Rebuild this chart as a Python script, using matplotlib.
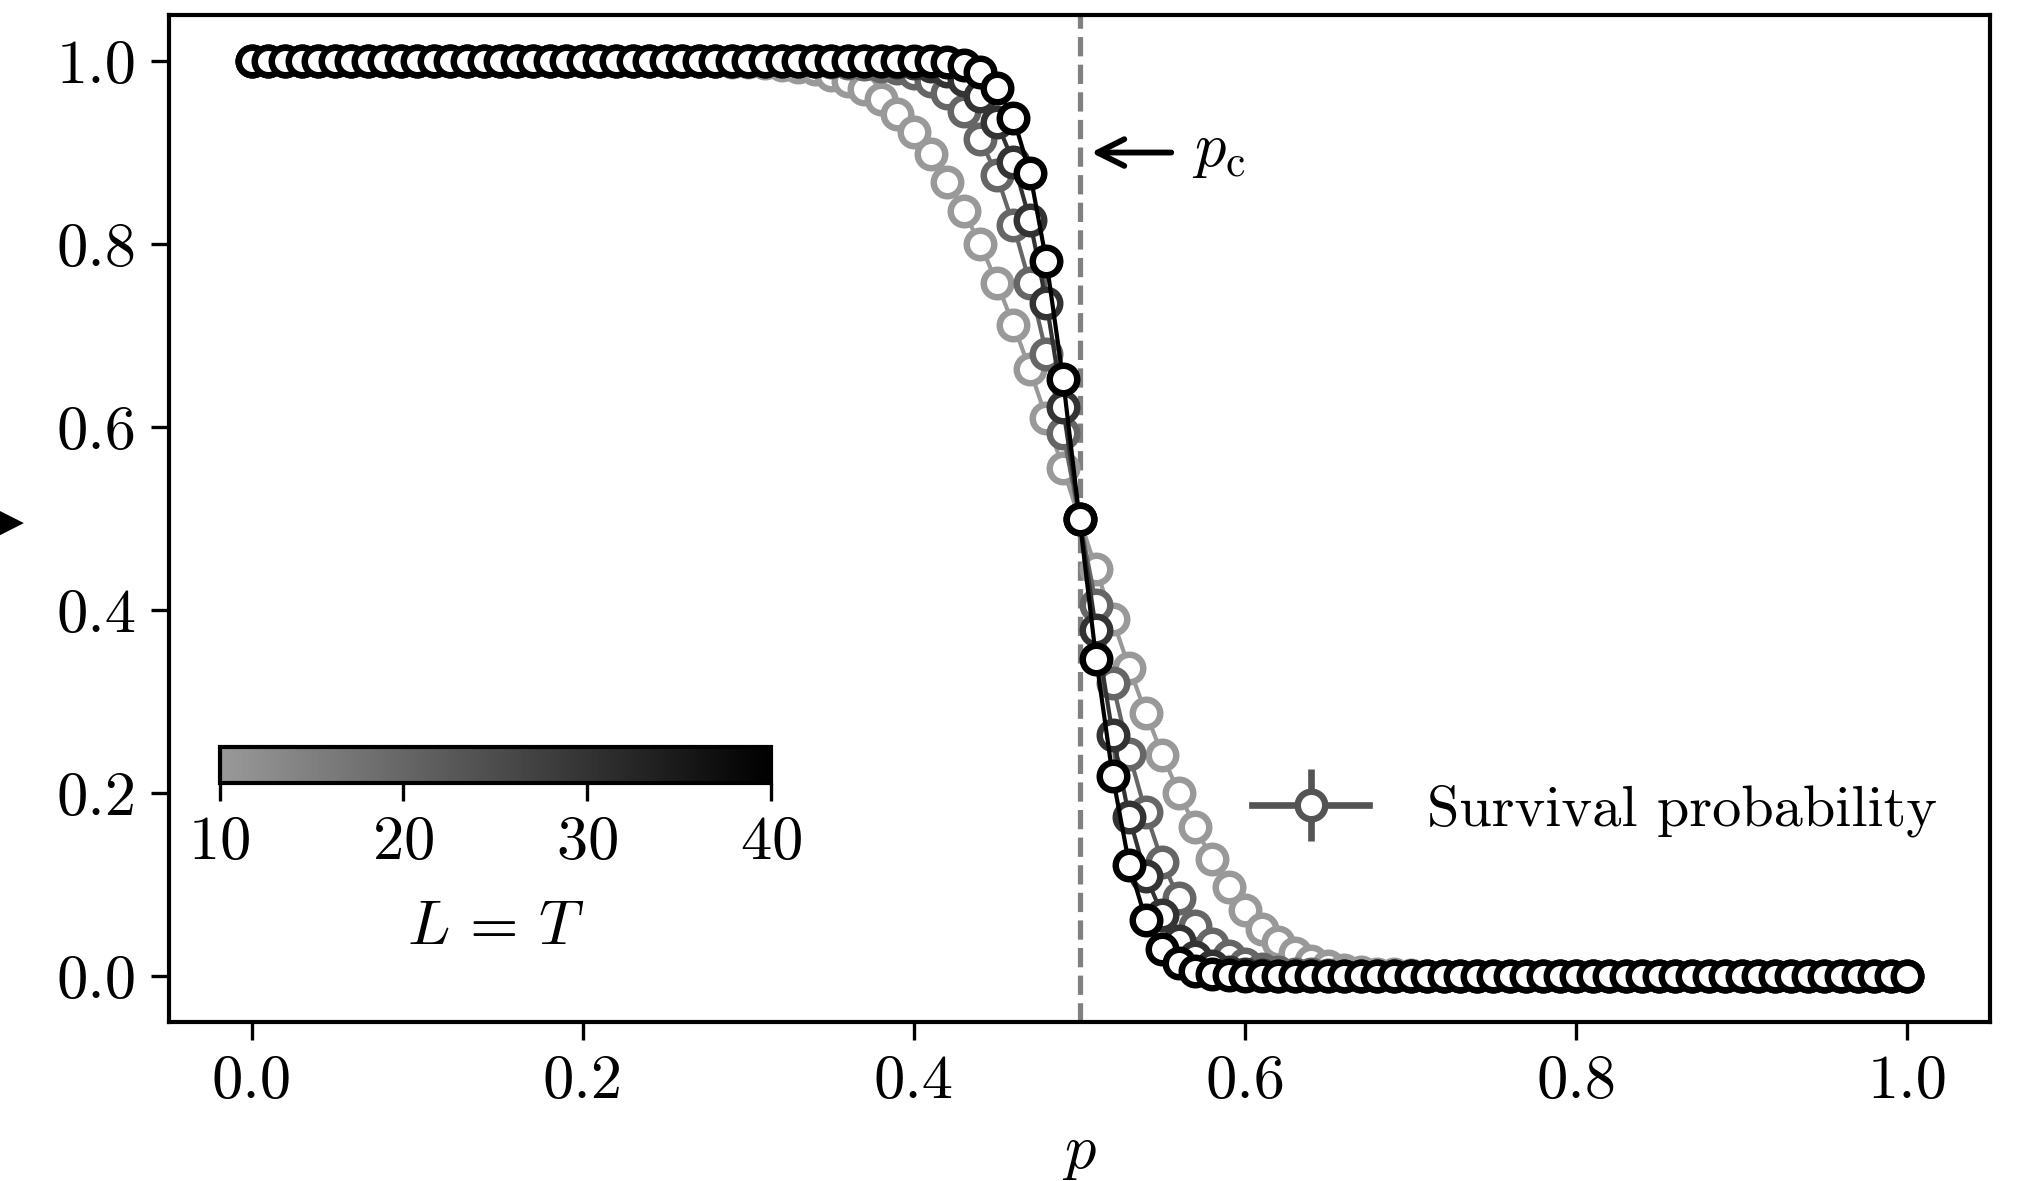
import numpy as np
import matplotlib
matplotlib.use("Agg")
import matplotlib.pyplot as plt
from matplotlib.colors import LinearSegmentedColormap, Normalize
from matplotlib.cm import ScalarMappable
from matplotlib.legend_handler import HandlerErrorbar

plt.rcParams.update({
    "font.family": "serif",
    "font.serif": ["cmr10"],
    "mathtext.fontset": "cm",
    "axes.formatter.use_mathtext": True,
    "font.size": 14,
    "axes.linewidth": 1.0,
    "xtick.major.size": 4.4,
    "ytick.major.size": 4.4,
    "xtick.major.width": 0.8,
    "ytick.major.width": 0.8,
})

# ---------------- data ----------------
p = np.round(np.arange(101) / 100, 2)
sizes = [10, 20, 30, 40]

surv_L10 = [
    1, 1, 1, 1, 1, 1, 1, 1, 1, 1,
    1, 1, 1, 1, 1, 1, 1, 1, 1, 1,
    1, 1, 1, 1, 1, 1, 1, 1, 0.9995, 0.999,
    0.9985, 0.9975, 0.996, 0.994, 0.991, 0.985, 0.978, 0.969, 0.958, 0.942,
    0.922, 0.898, 0.868, 0.836, 0.800, 0.758, 0.712, 0.663, 0.610, 0.555,
    0.500, 0.445, 0.390, 0.337, 0.288, 0.242, 0.200, 0.163, 0.128, 0.098,
    0.072, 0.052, 0.037, 0.025, 0.017, 0.011, 0.007, 0.0045, 0.003, 0.002,
    0.001, 0.0005, 0, 0, 0, 0, 0, 0, 0, 0,
    0, 0, 0, 0, 0, 0, 0, 0, 0, 0,
    0, 0, 0, 0, 0, 0, 0, 0, 0, 0,
    0,
]
surv_L20 = [
    1, 1, 1, 1, 1, 1, 1, 1, 1, 1,
    1, 1, 1, 1, 1, 1, 1, 1, 1, 1,
    1, 1, 1, 1, 1, 1, 1, 1, 1, 1,
    1, 1, 1, 1, 0.9995, 0.999, 0.998, 0.997, 0.995, 0.992,
    0.987, 0.978, 0.965, 0.945, 0.915, 0.875, 0.821, 0.757, 0.680, 0.594,
    0.500, 0.406, 0.320, 0.243, 0.179, 0.125, 0.085, 0.055, 0.035, 0.022,
    0.013, 0.008, 0.005, 0.003, 0.002, 0.001, 0.0005, 0, 0, 0,
    0, 0, 0, 0, 0, 0, 0, 0, 0, 0,
    0, 0, 0, 0, 0, 0, 0, 0, 0, 0,
    0, 0, 0, 0, 0, 0, 0, 0, 0, 0,
    0,
]
surv_L30 = [
    1, 1, 1, 1, 1, 1, 1, 1, 1, 1,
    1, 1, 1, 1, 1, 1, 1, 1, 1, 1,
    1, 1, 1, 1, 1, 1, 1, 1, 1, 1,
    1, 1, 1, 1, 1, 1, 1, 1, 0.9995, 0.999,
    0.998, 0.995, 0.989, 0.979, 0.962, 0.933, 0.890, 0.826, 0.736, 0.622,
    0.500, 0.378, 0.264, 0.174, 0.110, 0.067, 0.038, 0.021, 0.011, 0.005,
    0.002, 0.001, 0.0005, 0, 0, 0, 0, 0, 0, 0,
    0, 0, 0, 0, 0, 0, 0, 0, 0, 0,
    0, 0, 0, 0, 0, 0, 0, 0, 0, 0,
    0, 0, 0, 0, 0, 0, 0, 0, 0, 0,
    0,
]
surv_L40 = [
    1, 1, 1, 1, 1, 1, 1, 1, 1, 1,
    1, 1, 1, 1, 1, 1, 1, 1, 1, 1,
    1, 1, 1, 1, 1, 1, 1, 1, 1, 1,
    1, 1, 1, 1, 1, 1, 1, 1, 1, 1,
    1, 0.9995, 0.999, 0.996, 0.988, 0.970, 0.938, 0.878, 0.781, 0.653,
    0.500, 0.347, 0.219, 0.122, 0.062, 0.030, 0.014, 0.006, 0.002, 0.001,
    0.0005, 0, 0, 0, 0, 0, 0, 0, 0, 0,
    0, 0, 0, 0, 0, 0, 0, 0, 0, 0,
    0, 0, 0, 0, 0, 0, 0, 0, 0, 0,
    0, 0, 0, 0, 0, 0, 0, 0, 0, 0,
    0,
]
series = [surv_L10, surv_L20, surv_L30, surv_L40]
p_c = 0.5
xticks = [0.0, 0.2, 0.4, 0.6, 0.8, 1.0]
yticks = [0.0, 0.2, 0.4, 0.6, 0.8, 1.0]
cbar_ticks = [10, 20, 30, 40]

# ---------------- figure ----------------
fig = plt.figure(figsize=(6.75, 3.937), dpi=300)
ax = fig.add_axes([0.0835, 0.1346, 0.8992, 0.8524])

cmap = LinearSegmentedColormap.from_list("gr", ["#999999", "#000000"])
norm = Normalize(vmin=min(sizes), vmax=max(sizes))

for k, (L, y) in enumerate(zip(sizes, series)):
    c = cmap(norm(L))
    ax.plot(p, y, "-o", color=c, lw=1.0, ms=6.6, mew=1.55,
            mfc="white", mec=c, zorder=2 + k)

ax.axvline(p_c, color="0.5", ls="--", lw=1.25, zorder=1)

ax.annotate(r"$p_\mathrm{c}$", xy=(0.507, 0.9), xytext=(0.568, 0.9),
            ha="left", va="center", fontsize=15,
            arrowprops=dict(arrowstyle="->", color="black", lw=1.4,
                            shrinkA=3, shrinkB=0, mutation_scale=16))

# legend proxy
h = ax.errorbar([np.nan], [np.nan], yerr=[0.1], fmt="-o", color="0.33",
                lw=1.6, elinewidth=1.6, ms=6.6, mew=1.55, mfc="white",
                label="Survival probability")
ax.legend(handles=[h], loc="center right", bbox_to_anchor=(1.0, 0.21),
          frameon=False, handlelength=2.0, handletextpad=1.0, fontsize=14,
          handler_map={type(h): HandlerErrorbar(xerr_size=0.5, yerr_size=0.62)})

ax.set_xlim(-0.05, 1.05)
ax.set_ylim(-0.05, 1.05)
ax.set_xticks(xticks)
ax.set_yticks(yticks)
ax.set_xticklabels([f"{v:.1f}" for v in xticks])
ax.set_yticklabels([f"{v:.1f}" for v in yticks])
ax.tick_params(labelsize=15)
ax.set_xlabel(r"$p$", fontsize=15)

# colorbar inset
cax = ax.inset_axes([0.0277, 0.2375, 0.303, 0.036])
sm = ScalarMappable(norm=norm, cmap=cmap)
cb = fig.colorbar(sm, cax=cax, orientation="horizontal", ticks=cbar_ticks)
cb.outline.set_linewidth(1.0)
cb.ax.tick_params(labelsize=15, length=4.4, width=0.8)
cb.set_label(r"$L\,=\,T$", fontsize=15, labelpad=7)

# cut-off marker at the left edge
fig.text(-0.004, 0.557, "\u25B6", fontsize=10, family="DejaVu Sans",
         ha="left", va="center")

fig.savefig("out.png", dpi=300)
